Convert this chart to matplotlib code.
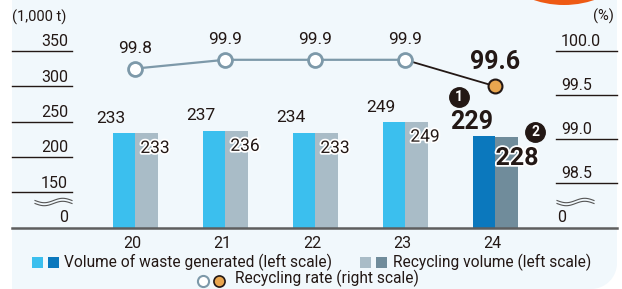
import numpy as np
import matplotlib
matplotlib.use("Agg")
import matplotlib.pyplot as plt
import matplotlib.patheffects as pe
from matplotlib.patches import Rectangle, Circle, Polygon
from matplotlib.lines import Line2D
from matplotlib import transforms

plt.rcParams['font.family'] = ['Roboto', 'DejaVu Sans']

# ---- data ----
years = ["20", "21", "22", "23", "24"]
waste = [233, 237, 234, 249, 229]
recycled = [233, 236, 233, 249, 228]
rate = [99.8, 99.9, 99.9, 99.9, 99.6]
left_ticks = [150, 200, 250, 300, 350]
right_ticks = [98.5, 99.0, 99.5, 100.0]

W, H = 622, 289
fig = plt.figure(figsize=(W / 100, H / 100), dpi=100)
fig.patch.set_facecolor("white")

def fx(px):
    return px / W

def fy(py):
    return 1 - py / H

BG = "#f1f8fc"
# panel
fig.patches.append(Rectangle((fx(12), 0), fx(617) - fx(12), 1, transform=fig.transFigure,
                             facecolor=BG, edgecolor="none", zorder=-3))
# rounded bottom-right corner
r = 26
cx, cy = 617 - r, 289 - r
ang = np.linspace(0, np.pi / 2, 30)
pts = [(fx(cx + r * np.cos(a)), fy(cy + r * np.sin(a))) for a in ang]
pts += [(fx(619), fy(290)), (fx(619), fy(cy))]
fig.patches.append(Polygon(pts, closed=True, transform=fig.transFigure,
                           facecolor="white", edgecolor="none", zorder=-2))
# orange circle top right (pixel coordinates)
fig.patches.append(Circle((564, H + 90), 95, transform=transforms.IdentityTransform(),
                          facecolor="#ee5a14", edgecolor="none", zorder=-1))

ax = fig.add_axes([fx(12), fy(228), fx(617) - fx(12), 228 / H])
ax.set_facecolor("none")
ax.set_xlim((12 - 135) / 90, (617 - 135) / 90)
ax.set_ylim(150 - 36 / 0.705, 150 + 192 / 0.705)
for s in ax.spines.values():
    s.set_visible(False)
ax.set_xticks([])
ax.set_yticks([])

ax2 = ax.twinx()
ax2.set_facecolor("none")
ax2.set_ylim(100 - 177 / 88, 100 + 51 / 88)
for s in ax2.spines.values():
    s.set_visible(False)
ax2.set_xticks([])
ax2.set_yticks([])

x = np.arange(len(years))
bw = 0.25
c_waste = ["#3bbfee"] * 4 + ["#0b78bd"]
c_rec = ["#a9bcc7"] * 4 + ["#708c9b"]
ax.bar(x - bw / 2, waste, width=bw, color=c_waste, zorder=2)
ax.bar(x + bw / 2, recycled, width=bw, color=c_rec, zorder=2)

stroke = [pe.withStroke(linewidth=2.5, foreground="white")]
for i in range(len(years)):
    last = i == len(years) - 1
    if last:
        t1 = transforms.offset_copy(ax.transData, fig=fig, x=-23, y=14, units="dots")
        ax.text(x[i], waste[i], str(waste[i]), transform=t1, ha="center", va="center",
                fontsize=18, fontweight="bold", color="#231815", zorder=5)
        t2 = transforms.offset_copy(ax.transData, fig=fig, x=22, y=-21, units="dots")
        ax.text(x[i], recycled[i], str(recycled[i]), transform=t2, ha="center", va="center",
                fontsize=18, fontweight="bold", color="#231815", zorder=5, path_effects=stroke)
    else:
        t1 = transforms.offset_copy(ax.transData, fig=fig, x=-24, y=15, units="dots")
        ax.text(x[i], waste[i], str(waste[i]), transform=t1, ha="center", va="center",
                fontsize=12.5, color="#231815", zorder=5)
        t2 = transforms.offset_copy(ax.transData, fig=fig, x=20, y=-15, units="dots")
        ax.text(x[i], recycled[i], str(recycled[i]), transform=t2, ha="center", va="center",
                fontsize=12.5, color="#231815", zorder=5, path_effects=stroke)

# recycling rate line
LC = "#7d99a9"
ax2.plot(x[:4], rate[:4], color=LC, lw=1.6, zorder=3)
ax2.plot(x[3:], rate[3:], color="#231815", lw=1.3, zorder=3)
ax2.plot(x[:4], rate[:4], "o", ms=10, mfc="white", mec=LC, mew=2, zorder=4)
ax2.plot(x[4:], rate[4:], "o", ms=10, mfc="#e9a64f", mec="#231815", mew=1.5, zorder=4)
for i in range(len(years)):
    last = i == len(years) - 1
    t = transforms.offset_copy(ax2.transData, fig=fig, x=0, y=24 if last else 20, units="dots")
    ax2.text(x[i], rate[i], f"{rate[i]:.1f}", transform=t, ha="center", va="center",
             fontsize=18 if last else 12.5, fontweight="bold" if last else "normal",
             color="#231815", zorder=5)

# circled numbers
for (px, py, n) in [(459, 97, "1"), (535, 132, "2")]:
    fig.add_artist(Line2D([fx(px)], [fy(py)], marker="o", ms=14, mfc="#231815",
                          mec="#231815", transform=fig.transFigure, zorder=6))
    fig.text(fx(px), fy(py), n, ha="center", va="center", fontsize=10,
             color="white", fontweight="bold", zorder=7)

# left axis tick lines & labels
for v in left_ticks:
    ax.plot([0, 60 / 605], [v, v], transform=ax.get_yaxis_transform(), color="#231815",
            lw=1, clip_on=False, zorder=3)
    t = transforms.offset_copy(ax.get_yaxis_transform(), fig=fig, x=0, y=9, units="dots")
    ax.text(56 / 605, v, str(v), transform=t, ha="right", va="center",
            fontsize=11.5, color="#231815")
# right axis
for v in right_ticks:
    ax2.plot([544 / 605, 1], [v, v], transform=ax2.get_yaxis_transform(), color="#231815",
             lw=1, clip_on=False, zorder=3)
    t = transforms.offset_copy(ax2.get_yaxis_transform(), fig=fig, x=0, y=9, units="dots")
    ax2.text(549 / 605, v, f"{v:.1f}", transform=t, ha="left", va="center",
             fontsize=11.5, color="#231815")

# zero labels and units
fig.text(fx(68), fy(218), "0", ha="right", va="center", fontsize=11.5, color="#231815")
fig.text(fx(557), fy(218), "0", ha="left", va="center", fontsize=11.5, color="#231815")
fig.text(fx(12), fy(17), "(1,000 t)", ha="left", va="center", fontsize=10.5, color="#231815")
fig.text(fx(614), fy(16), "(%)", ha="right", va="center", fontsize=10.5, color="#231815")

# break symbols
def wave(x0, x1, yc):
    xs = np.linspace(x0, x1, 60)
    for off in (-1.5, 1.5):
        ys = yc + off + 2.2 * np.sin((xs - x0) / (x1 - x0) * 2 * np.pi)
        fig.add_artist(Line2D(fx(xs), fy(ys), color="#555555", lw=0.8,
                              transform=fig.transFigure))
wave(35, 72, 202)
wave(557, 594, 202)

# baseline
fig.add_artist(Line2D([fx(12), fx(617)], [fy(228), fy(228)], color="#5e5e5e", lw=1.8,
                      transform=fig.transFigure, zorder=4))

# x labels
for i, y in enumerate(years):
    fig.text(fx(135 + 90 * i - 3), fy(243), y, ha="center", va="center",
             fontsize=11.5, color="#231815")

# legend
LF = 11.2
def sq(px, py, c):
    fig.patches.append(Rectangle((fx(px), fy(py + 11)), 11 / W, 11 / H,
                                 transform=fig.transFigure, facecolor=c, edgecolor="none"))
sq(32, 257, "#3bbfee"); sq(48, 257, "#0b78bd")
fig.text(fx(64), fy(262), "Volume of waste generated (left scale)", ha="left", va="center",
         fontsize=LF, color="#231815")
sq(360, 257, "#a9bcc7"); sq(376, 257, "#708c9b")
fig.text(fx(393), fy(262), "Recycling volume (left scale)", ha="left", va="center",
         fontsize=LF, color="#231815")
fig.add_artist(Line2D([fx(202.5)], [fy(281)], marker="o", ms=8, mfc="white", mec=LC, mew=1.5,
                      transform=fig.transFigure))
fig.add_artist(Line2D([fx(219)], [fy(281)], marker="o", ms=8, mfc="#e9a64f", mec="#231815",
                      mew=1.2, transform=fig.transFigure))
fig.text(fx(235), fy(278), "Recycling rate (right scale)", ha="left", va="center",
         fontsize=LF, color="#231815")

fig.savefig("out.png", dpi=100, facecolor="white")
